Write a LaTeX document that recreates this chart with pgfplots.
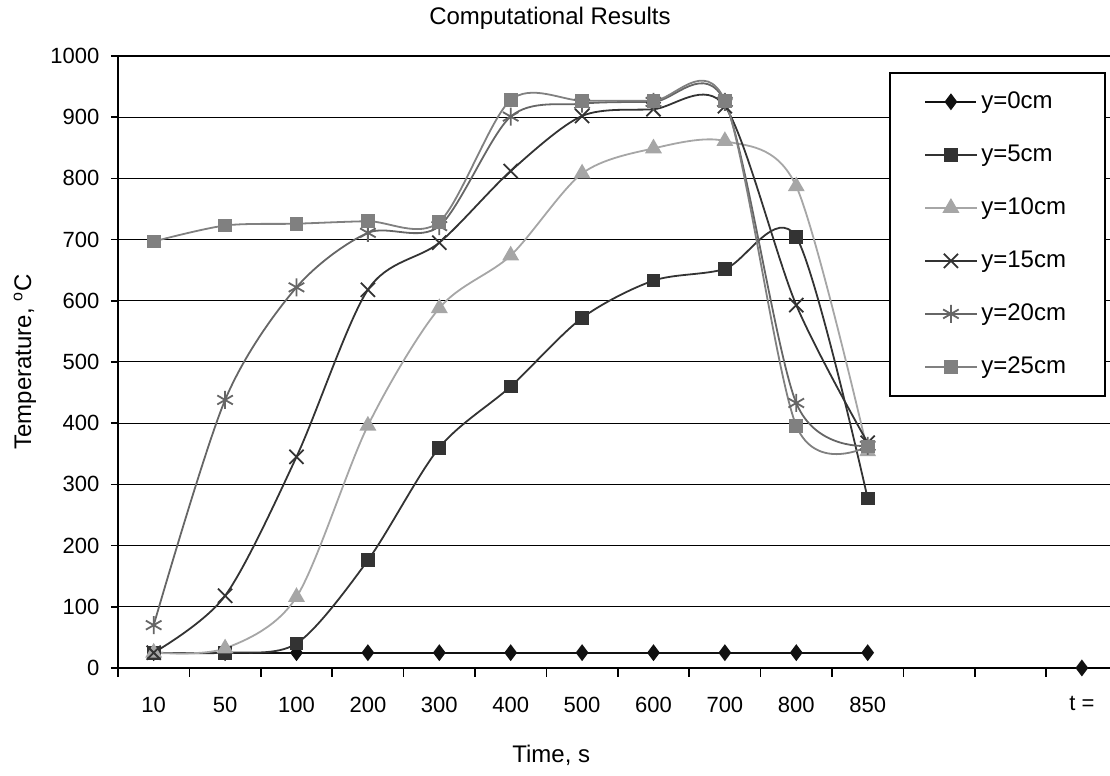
\documentclass[border=0pt]{standalone}
\usepackage{pgfplots}
\pgfplotsset{compat=1.18}
\usepackage{fontspec}
\setmainfont{Liberation Sans}
\definecolor{c0}{HTML}{111111}
\definecolor{c5}{HTML}{333333}
\definecolor{c10}{HTML}{A6A6A6}
\definecolor{c15}{HTML}{333333}
\definecolor{c20}{HTML}{666666}
\definecolor{c25}{HTML}{808080}
\begin{document}
\begin{tikzpicture}
\begin{axis}[
  scale only axis, width=498pt, height=306pt,
  xmin=-0.5, xmax=13.45, ymin=0, ymax=1000,
  clip=false,
  unbounded coords=jump,
  axis line style={line width=1pt, black},
  tick pos=left, tick align=outside,
  xtick={0,1,2,3,4,5,6,7,8,9,10,13},
  xticklabels={10,50,100,200,300,400,500,600,700,800,850,t =},
  minor xtick={-0.5,0.5,...,12.5},
  major tick length=3.5pt, minor tick length=4.5pt,
  major x tick style={draw=none},
  tick style={line width=0.8pt, black},
  ytick={0,100,...,1000},
  ymajorgrids, major grid style={black, line width=0.5pt},
  /pgf/number format/assume math mode=true,
  /pgf/number format/1000 sep={},
  ticklabel style={font=\fontsize{11}{13}\selectfont},
  xticklabel style={yshift=-7.3pt},
  yticklabel style={xshift=-2.3pt},
  xlabel={Time, s},
  xlabel style={at={(0.435,-0.142)}, anchor=center, font=\fontsize{12}{14}\selectfont},
  ylabel={Temperature, \textsuperscript{o}C},
  ylabel style={at={(-0.0934,0.5)}, anchor=center, font=\fontsize{12}{14}\selectfont},
  legend style={at={(0.992,0.974)}, anchor=north east, draw=black, line width=1pt,
    inner xsep=17.5pt, inner ysep=7.5pt, row sep=12.7pt,
    font=\fontsize{12}{14}\selectfont, cells={anchor=west}, nodes={inner sep=2pt}},
  legend image code/.code={\draw[mark repeat=2, mark phase=2] plot coordinates {(0pt,0pt) (12.75pt,0pt) (25.5pt,0pt)};},
]
\addplot[color=c0, line width=0.9pt, mark=diamond*, mark size=3.5pt, mark options={solid, fill=c0}]
  coordinates {(0,25)(1,25)(2,25)(3,25)(4,25)(5,25)(6,25)(7,25)(8,25)(9,25)(10,25)(11,nan)(12,nan)(13,0)};
\addlegendentry{y=0cm}
\addplot[color=c5, line width=0.9pt, smooth, mark=square*, mark size=3pt, mark options={solid, fill=c5}]
  coordinates {(0,25)(1,25)(2,40)(3,176)(4,360)(5,460)(6,572)(7,633)(8,652)(9,704)(10,277)};
\addlegendentry{y=5cm}
\addplot[color=c10, line width=0.9pt, smooth, mark=triangle*, mark size=4pt, mark options={solid, fill=c10}]
  coordinates {(0,25)(1,32)(2,116)(3,396)(4,588)(5,674)(6,808)(7,849)(8,861)(9,787)(10,354)};
\addlegendentry{y=10cm}
\addplot[color=c15, line width=0.9pt, smooth, mark=x, mark size=5pt, mark options={solid}]
  coordinates {(0,25)(1,118)(2,345)(3,618)(4,695)(5,812)(6,902)(7,913)(8,918)(9,593)(10,368)};
\addlegendentry{y=15cm}
\addplot[color=c20, line width=0.9pt, smooth, mark=asterisk, mark size=4.5pt, mark options={solid}]
  coordinates {(0,70)(1,438)(2,622)(3,711)(4,722)(5,901)(6,922)(7,925)(8,925)(9,433)(10,363)};
\addlegendentry{y=20cm}
\addplot[color=c25, line width=0.9pt, smooth, mark=square*, mark size=3pt, mark options={solid, fill=c25}]
  coordinates {(0,697)(1,723)(2,726)(3,730)(4,729)(5,928)(6,927)(7,927)(8,927)(9,396)(10,362)};
\addlegendentry{y=25cm}
\end{axis}
\node[font=\fontsize{12}{14}\selectfont, anchor=center] at (216pt,325pt) {Computational Results};
\pgfresetboundingbox
\path[use as bounding box] (-59pt,-54pt) rectangle (496pt,334pt);
\end{tikzpicture}
\end{document}
